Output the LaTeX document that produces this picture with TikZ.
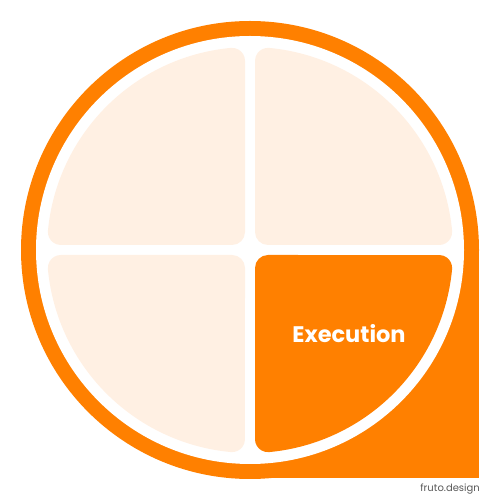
\documentclass[tikz,border=0pt]{standalone}
\usepackage{fontspec}
\newfontfamily\popfont{Poppins}
\definecolor{orng}{RGB}{255,128,0}
\definecolor{pale}{RGB}{255,240,227}
\definecolor{credit}{RGB}{90,90,90}
\begin{document}
\begin{tikzpicture}[x=1pt,y=1pt,
  label/.style={text=white,font=\popfont\bfseries\fontsize{22.5}{26}\selectfont},
  creditlabel/.style={text=credit,font=\popfont\fontsize{10}{12}\selectfont,anchor=east,inner sep=0pt}]
\useasboundingbox[fill=white] (0,0) rectangle (500,500);
\def\slicepath{(18,5) -- (189.15,5) arc[start angle=-90, end angle=5.44, radius=13]
  arc[start angle=5.44, end angle=84.56, radius=203]
  arc[start angle=84.56, end angle=180, radius=13] -- (5,18)
  arc[start angle=180, end angle=270, radius=13] -- cycle}
% outer ring with the squared bottom-right corner
\fill[orng] (250,250) circle[radius=229];
\fill[orng] (250,22) rectangle (479,250);
\fill[white] (250,250) circle[radius=214];
% four quadrants
\begin{scope}[shift={(250,250)}]
  \fill[pale] \slicepath;
  \fill[pale, rotate=90] \slicepath;
  \fill[pale, rotate=180] \slicepath;
  \fill[orng, rotate=270] \slicepath;
\end{scope}
\node[label] (exec) at (349,166) {Execution};
\node[creditlabel] (credit) at (480,11) {fruto.design};
\end{tikzpicture}
\end{document}
